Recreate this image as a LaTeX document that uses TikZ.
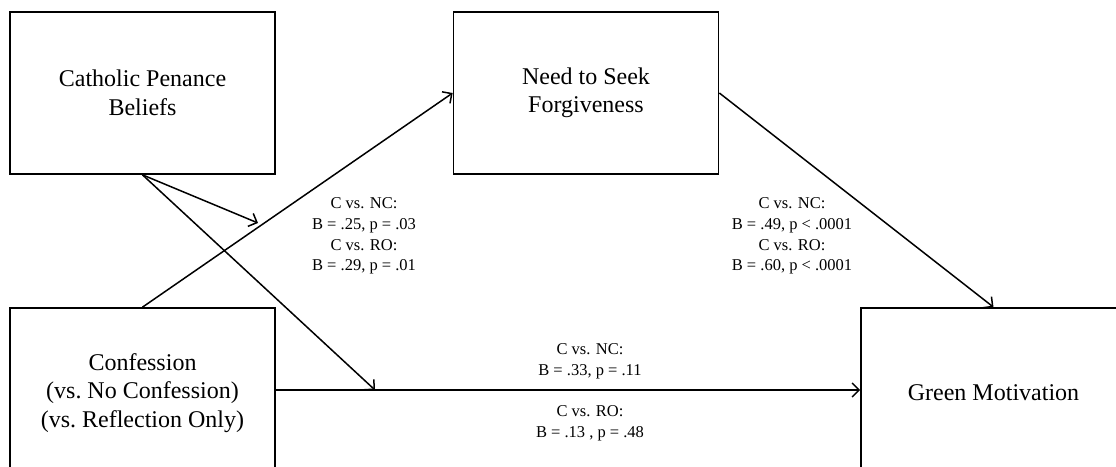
\documentclass[tikz,border=0pt]{standalone}
\usepackage{fontspec}
\setmainfont{Liberation Serif}
\usetikzlibrary{arrows.meta}
\begin{document}
\begin{tikzpicture}[x=1pt,y=-1pt,
  box/.style={draw,line width=1.7pt,minimum width=265pt,minimum height=162pt,inner sep=0pt,align=center,font=\fontsize{24}{28.5}\selectfont},
  lbl/.style={align=center,inner sep=0pt,font=\fontsize{16.5}{20.6}\selectfont},
  conn/.style={line width=1.5pt,-{Straight Barb[length=7pt,width=14pt,line width=1.5pt]}}]
\useasboundingbox (0,0) rectangle (1116,466);
\clip (0,0) rectangle (1116,466);
\fill[white] (0,0) rectangle (1116,466);
\node[box] (cpb) at (142.5,93) {Catholic Penance\\Beliefs};
\node[box] (nsf) at (586,93) {Need to Seek\\Forgiveness};
\node[box,minimum height=170pt] (conf) at (142.5,393) {Confession\\(vs.~No Confession)\\(vs.~Reflection Only)};
\node[box,minimum height=170pt] (gm) at (993.5,393) {Green Motivation};
\coordinate (m1) at (258,223);
\coordinate (m2) at (375,390);
\draw[conn] (conf.north) -- (nsf.west);
\draw[conn] (cpb.south) -- (m1);
\draw[conn] (cpb.south) -- (m2);
\draw[conn] (conf.east |- 0,390) -- (gm.west |- 0,390);
\draw[conn] (nsf.east) -- (gm.north);
\node[lbl] (la) at (364,236) {C vs. NC:\\B = .25, p = .03\\C vs. RO:\\B = .29, p = .01};
\node[lbl] (lb) at (792,236) {C vs. NC:\\B = .49, p < .0001\\C vs. RO:\\B = .60, p < .0001};
\node[lbl] (lc1) at (590,361) {C vs. NC:\\B = .33, p = .11};
\node[lbl] (lc2) at (590,423) {C vs. RO:\\B = .13 , p = .48};
\end{tikzpicture}
\end{document}
